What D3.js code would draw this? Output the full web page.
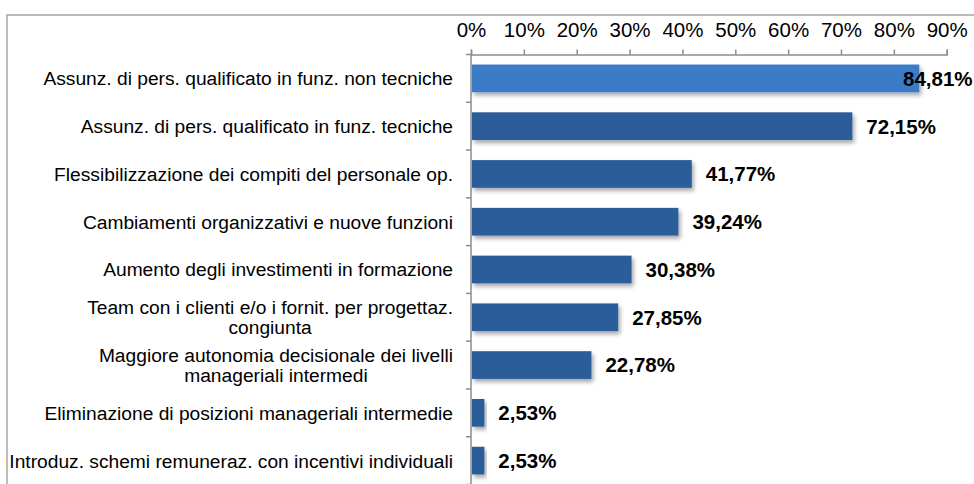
<!DOCTYPE html>
<html>
<head>
<meta charset="utf-8">
<script src="https://cdn.jsdelivr.net/npm/d3@7/dist/d3.min.js"></script>
<style>
  body { margin: 0; background: #fff; }
  svg { display: block; font-family: "Liberation Sans", Arial, sans-serif; }
</style>
</head>
<body>
<svg id="chart" width="974" height="484"></svg>
<script>
// --- DATA ---
const categories = [
    ['Assunz. di pers. qualificato in funz. non tecniche'],
    ['Assunz. di pers. qualificato in funz. tecniche'],
    ['Flessibilizzazione dei compiti del personale op.'],
    ['Cambiamenti organizzativi e nuove funzioni'],
    ['Aumento degli investimenti in formazione'],
    ['Team con i clienti e/o i fornit. per progettaz.', 'congiunta'],
    ['Maggiore autonomia decisionale dei livelli', 'manageriali intermedi'],
    ['Eliminazione di posizioni manageriali intermedie'],
    ['Introduz. schemi remuneraz. con incentivi individuali']
];
const values = [84.81, 72.15, 41.77, 39.24, 30.38, 27.85, 22.78, 2.53, 2.53];
const tickValues = [0, 10, 20, 30, 40, 50, 60, 70, 80, 90];

// --- LAYOUT ---
const W = 974, H = 484;
const plotLeft = 471, plotRight = 946.7, plotTop = 54.5, plotBottom = 484.5;

const svg = d3.select('#chart');

// drop shadow per le barre
const defs = svg.append('defs');
const f = defs.append('filter').attr('id', 'shadow')
    .attr('x', '-10%').attr('y', '-30%').attr('width', '130%').attr('height', '180%');
f.append('feDropShadow').attr('dx', 2).attr('dy', 3).attr('stdDeviation', 2)
    .attr('flood-color', '#000').attr('flood-opacity', 0.35);

// cornice
svg.append('rect')
    .attr('x', 7).attr('y', 15).attr('width', W + 10).attr('height', H + 10)
    .attr('fill', 'none').attr('stroke', '#a6a6a6').attr('stroke-width', 1.5);

const x = d3.scaleLinear().domain([0, 90]).range([plotLeft, plotRight]);
const y = d3.scaleBand().domain(d3.range(categories.length)).range([plotTop, plotBottom]).paddingInner(0.42).paddingOuter(0.21);
const yb = d3.scaleBand().domain(d3.range(categories.length)).range([plotTop, plotBottom]);

// asse superiore
const xAxis = svg.append('g')
    .attr('transform', `translate(0,${plotTop})`)
    .call(d3.axisTop(x).tickValues(tickValues).tickSize(5).tickPadding(13).tickFormat(d => d + '%'));
xAxis.select('.domain').attr('stroke', '#8c8c8c').attr('stroke-width', 1.5);
xAxis.selectAll('.tick line').attr('stroke', '#8c8c8c').attr('stroke-width', 1.5);
xAxis.selectAll('.tick text').attr('font-size', 20.5).attr('fill', '#000')
    .attr('font-family', '"Liberation Sans", Arial, sans-serif');

// asse verticale con tacche tra le categorie
svg.append('line')
    .attr('x1', plotLeft).attr('x2', plotLeft).attr('y1', plotTop).attr('y2', plotBottom)
    .attr('stroke', '#8c8c8c').attr('stroke-width', 1.5);
svg.append('g').selectAll('line')
    .data(d3.range(categories.length + 1))
    .join('line')
    .attr('x1', plotLeft - 5).attr('x2', plotLeft)
    .attr('y1', i => plotTop + i * yb.step()).attr('y2', i => plotTop + i * yb.step())
    .attr('stroke', '#8c8c8c').attr('stroke-width', 1.5);

// barre
svg.append('g').selectAll('rect')
    .data(values)
    .join('rect')
    .attr('x', x(0) + 1)
    .attr('y', (d, i) => y(i))
    .attr('width', d => x(d) - x(0) - 1)
    .attr('height', y.bandwidth())
    .attr('fill', (d, i) => i === 0 ? '#3a7bc9' : '#2c5d99')
    .attr('filter', 'url(#shadow)');

// etichette valori
svg.append('g').selectAll('text')
    .data(values)
    .join('text')
    .attr('x', d => Math.min(x(d) + 14, W - 71))
    .attr('y', (d, i) => yb(i) + yb.bandwidth() / 2)
    .attr('dy', '0.36em')
    .attr('font-size', 20.5)
    .attr('font-weight', 'bold')
    .attr('fill', '#000')
    .text(d => d.toFixed(2).replace('.', ',') + '%');

// etichette categorie
const labelRight = plotLeft - 18;
const lineH = 19.5;
const lab = svg.append('g').selectAll('g')
    .data(categories)
    .join('g');
lab.each(function (lines, i) {
    const g = d3.select(this);
    const cy = yb(i) + yb.bandwidth() / 2;
    const t = g.selectAll('text').data(lines).join('text')
        .attr('font-size', 19.2)
        .attr('fill', '#000')
        .attr('y', (d, k) => cy + (k - (lines.length - 1) / 2) * lineH)
        .attr('dy', '0.36em')
        .text(d => d);
    let maxW = 0;
    t.each(function () { maxW = Math.max(maxW, this.getComputedTextLength()); });
    t.attr('text-anchor', 'middle').attr('x', labelRight - maxW / 2);
});
</script>
</body>
</html>
